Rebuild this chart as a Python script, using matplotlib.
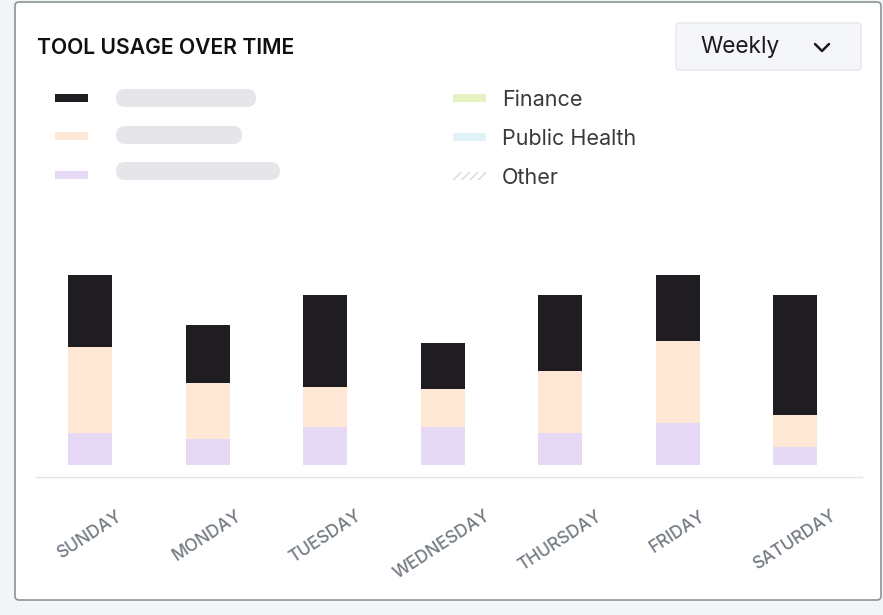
import matplotlib
matplotlib.use("Agg")
import matplotlib.pyplot as plt
from matplotlib.patches import FancyBboxPatch, Rectangle
import numpy as np

plt.rcParams['font.family'] = ['Inter', 'DejaVu Sans']

days = ["SUNDAY", "MONDAY", "TUESDAY", "WEDNESDAY", "THURSDAY", "FRIDAY", "SATURDAY"]
series_purple = [32, 26, 38, 38, 32, 42, 18]
series_peach = [86, 56, 40, 38, 62, 82, 32]
series_black = [72, 58, 92, 46, 76, 66, 120]
legend_labels = ["Finance", "Public Health", "Other"]

c_black = "#1f1c22"
c_peach = "#fee8d5"
c_purple = "#e6d9f5"
c_green = "#e5f2c0"
c_cyan = "#dff3f8"

W, H = 883, 615
fig = plt.figure(figsize=(W / 100, H / 100), dpi=100)
fig.patch.set_facecolor("#f4f5f6")

# overlay in pixel coords
ov = fig.add_axes([0, 0, 1, 1])
ov.set_xlim(0, W)
ov.set_ylim(H, 0)
ov.axis("off")

# card
ov.add_patch(FancyBboxPatch((15, 2), 866, 598, boxstyle="round,pad=0,rounding_size=4",
                            facecolor="white", edgecolor="#8c9497", linewidth=1.2, zorder=1))

ov.text(37, 48, "TOOL USAGE OVER TIME", fontsize=15.2, fontweight="semibold",
        color="#111111", va="center", ha="left", zorder=3)

# dropdown
ov.add_patch(FancyBboxPatch((676, 23), 185, 47, boxstyle="round,pad=0,rounding_size=3",
                            facecolor="#f5f6f9", edgecolor="#e6e8ee", linewidth=1, zorder=2))
ov.text(700, 47, "Weekly", fontsize=16.3, color="#1b1b1f", va="center", ha="left", zorder=3)
ov.plot([815, 822, 829], [44, 51, 44], color="#1b1b1f", lw=1.8, solid_capstyle="round",
        solid_joinstyle="round", zorder=3)

# legend left (placeholders)
left_cols = [c_black, c_peach, c_purple]
left_y = [98, 136, 175]
pill_y = [89, 126, 162]
pill_w = [140, 126, 164]
for col, y, py, pw in zip(left_cols, left_y, pill_y, pill_w):
    ov.add_patch(Rectangle((55, y - 4), 33, 8, facecolor=col, edgecolor="none", zorder=3))
    ov.add_patch(FancyBboxPatch((116, py), pw, 18,
                                boxstyle="round,pad=0,rounding_size=9",
                                facecolor="#e6e5ea", edgecolor="none", zorder=3))

# legend right
right_y = [98, 137, 176]
ov.add_patch(Rectangle((453, right_y[0] - 4), 33, 8, facecolor=c_green, edgecolor="none", zorder=3))
ov.add_patch(Rectangle((453, right_y[1] - 4), 33, 8, facecolor=c_cyan, edgecolor="none", zorder=3))
ov.add_patch(Rectangle((453, right_y[2] - 4), 33, 8, facecolor="white", edgecolor="#d8d8dc",
                       hatch="////", linewidth=0, zorder=3))
for lab, y in zip(legend_labels, right_y):
    ov.text(502, y + 2, lab, fontsize=15.5, color="#3a3a3e", va="center", ha="left", zorder=3)

# bars axes: pixel mapping
x0, x1 = 36, 862
ytop, ybot = 255, 477
ax = fig.add_axes([x0 / W, 1 - ybot / H, (x1 - x0) / W, (ybot - ytop) / H])
ax.patch.set_alpha(0)
step = 117.5
ax.set_xlim((x0 - 90) / step, (x1 - 90) / step)
ax.set_ylim(-12, 465 - ytop)

x = np.arange(len(days))
bw = 44 / step
p = np.array(series_purple)
pe = np.array(series_peach)
b = np.array(series_black)
ax.bar(x, p, bw, color=c_purple, zorder=2)
ax.bar(x, pe, bw, bottom=p, color=c_peach, zorder=2)
ax.bar(x, b, bw, bottom=p + pe, color=c_black, zorder=2)

for s in ["top", "right", "left"]:
    ax.spines[s].set_visible(False)
ax.spines["bottom"].set_color("#e3e4ec")
ax.spines["bottom"].set_linewidth(1)
ax.set_yticks([])
ax.set_xticks(x)
ax.set_xticklabels(days, rotation=33, ha="center", va="top", fontsize=12.5,
                   color="#737a82", fontweight="medium")
ax.tick_params(axis="x", length=0, pad=22)

fig.savefig("out.png", dpi=100, facecolor=fig.get_facecolor())
